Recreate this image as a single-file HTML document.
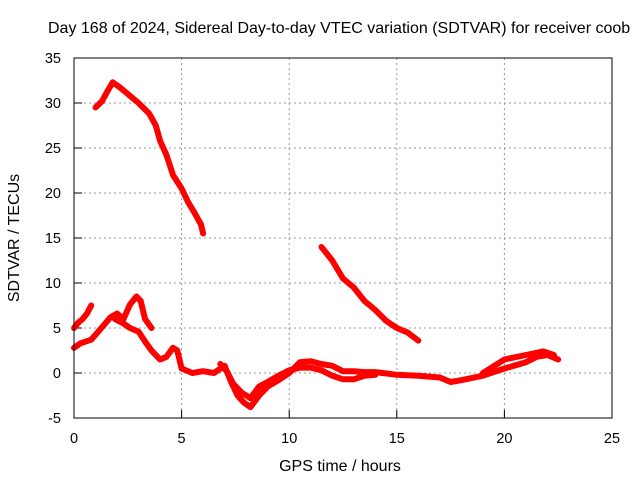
<!DOCTYPE html>
<html><head><meta charset="utf-8"><style>
body{margin:0;background:#fff}
svg{display:block;font-family:"Liberation Sans",sans-serif}
</style></head><body>
<svg id="chart" width="640" height="480" viewBox="0 0 640 480">
<text x="48" y="33" font-size="16">Day 168 of 2024, Sidereal Day-to-day VTEC variation (SDTVAR) for receiver coob</text>
<g id="grid"></g>
<g id="ticks" font-size="14.5"></g>
<g id="series"></g>
<rect x="74" y="58" width="538" height="360" fill="none" stroke="#000" stroke-width="1"/>
<text x="340" y="471" font-size="16" text-anchor="middle">GPS time / hours</text>
<text transform="translate(19,238) rotate(-90)" font-size="16" text-anchor="middle">SDTVAR / TECUs</text>
</svg>
<script>
const xTicks=[0,5,10,15,20,25];
const yTicks=[-5,0,5,10,15,20,25,30,35];
const seriesA_h=[1.0,1.3,1.6,1.8,2.1,2.5,3.0,3.5,3.8,4.0,4.3,4.6,5.0,5.3,5.6,5.9,6.0];
const seriesA_v=[29.5,30.2,31.5,32.3,31.8,31.0,30.0,28.8,27.5,25.8,24.2,22.0,20.5,19.0,17.8,16.5,15.5];
const seriesB_h=[0,0.2,0.4,0.6,0.8];
const seriesB_v=[5.0,5.6,6.0,6.6,7.5];
const seriesC_h=[0,0.3,0.8,1.2,1.7,2.0,2.3,2.6,2.9,3.1,3.3,3.6];
const seriesC_v=[2.8,3.3,3.7,4.8,6.2,6.6,6.0,7.6,8.5,8.0,6.0,5.0];
const seriesD_h=[1.9,2.3,2.6,3.0,3.3,3.6,4.0,4.3,4.6,4.8,5.0,5.5,6.0,6.5,7.0,7.3,7.6,7.9,8.2,8.6,9.0,9.5,10.0,10.5,11.0,11.5,12.0,12.5,13.0,13.5,14.0,15.0,16.0,17.0,17.5,18.0,19.0,20.0,21.0,21.5,22.0,22.5];
const seriesD_v=[6.0,5.5,5.0,4.6,3.5,2.5,1.5,1.8,2.8,2.5,0.5,0.0,0.2,0.0,0.8,-1.0,-2.5,-3.3,-3.8,-2.5,-1.5,-0.8,0.0,1.2,1.3,1.0,0.8,0.2,0.2,0.1,0.1,-0.2,-0.3,-0.5,-1.0,-0.8,-0.3,0.5,1.2,1.8,2.0,1.5];
const seriesE_h=[6.8,7.1,7.4,7.8,8.2,8.6,9.0,9.5,10.0,10.5,11.0,11.5,12.0,12.5,13.0,13.5,14.0];
const seriesE_v=[1.0,0.2,-1.2,-2.2,-2.8,-1.5,-1.0,-0.3,0.3,0.6,0.6,0.3,-0.3,-0.7,-0.7,-0.3,-0.2];
const seriesF_h=[19.0,20.0,21.0,21.8,22.3];
const seriesF_v=[0.0,1.5,2.0,2.4,2.0];
const seriesG_h=[11.5,12.0,12.5,13.0,13.5,14.0,14.5,15.0,15.5,16.0];
const seriesG_v=[14.0,12.5,10.5,9.5,8.0,7.0,5.8,5.0,4.5,3.6];
const X=h=>74+h*538/25, Y=v=>58+(35-v)*9;
const NS='http://www.w3.org/2000/svg';
const grid=document.getElementById('grid'),ticks=document.getElementById('ticks'),ser=document.getElementById('series');
function mk(tag,at,parent){const e=document.createElementNS(NS,tag);for(const k in at)e.setAttribute(k,at[k]);parent.appendChild(e);return e;}
xTicks.forEach(t=>{
  if(t>0&&t<25){const l=mk('line',{x1:X(t),x2:X(t),y1:58,y2:418,stroke:'#999','stroke-dasharray':'2,3'},grid);
  
  }
  const tm=mk('line',{x1:X(t),x2:X(t),y1:418,y2:410,stroke:'#000'},grid);
  
  
  const tl=mk('text',{x:X(t),y:443,'text-anchor':'middle'},ticks);tl.textContent=t;
  
  
});
yTicks.forEach(t=>{
  if(t>-5&&t<35){const l=mk('line',{x1:74,x2:612,y1:Y(t),y2:Y(t),stroke:'#999','stroke-dasharray':'2,3'},grid);
  
  }
  const tm=mk('line',{x1:74,x2:82,y1:Y(t),y2:Y(t),stroke:'#000'},grid);
  
  
  const tl=mk('text',{x:61,y:Y(t)+5,'text-anchor':'end'},ticks);tl.textContent=t;
  
  
});
[[seriesA_h,seriesA_v],[seriesB_h,seriesB_v],[seriesC_h,seriesC_v],[seriesD_h,seriesD_v],[seriesE_h,seriesE_v],[seriesF_h,seriesF_v],[seriesG_h,seriesG_v]].forEach(([h,v],i)=>{
  const p=mk('polyline',{points:h.map((x,j)=>X(x)+','+Y(v[j])).join(' '),fill:'none',stroke:'#f00','stroke-width':6,'stroke-linejoin':'round','stroke-linecap':'round'},ser);
  
  
});
</script>
</body></html>
